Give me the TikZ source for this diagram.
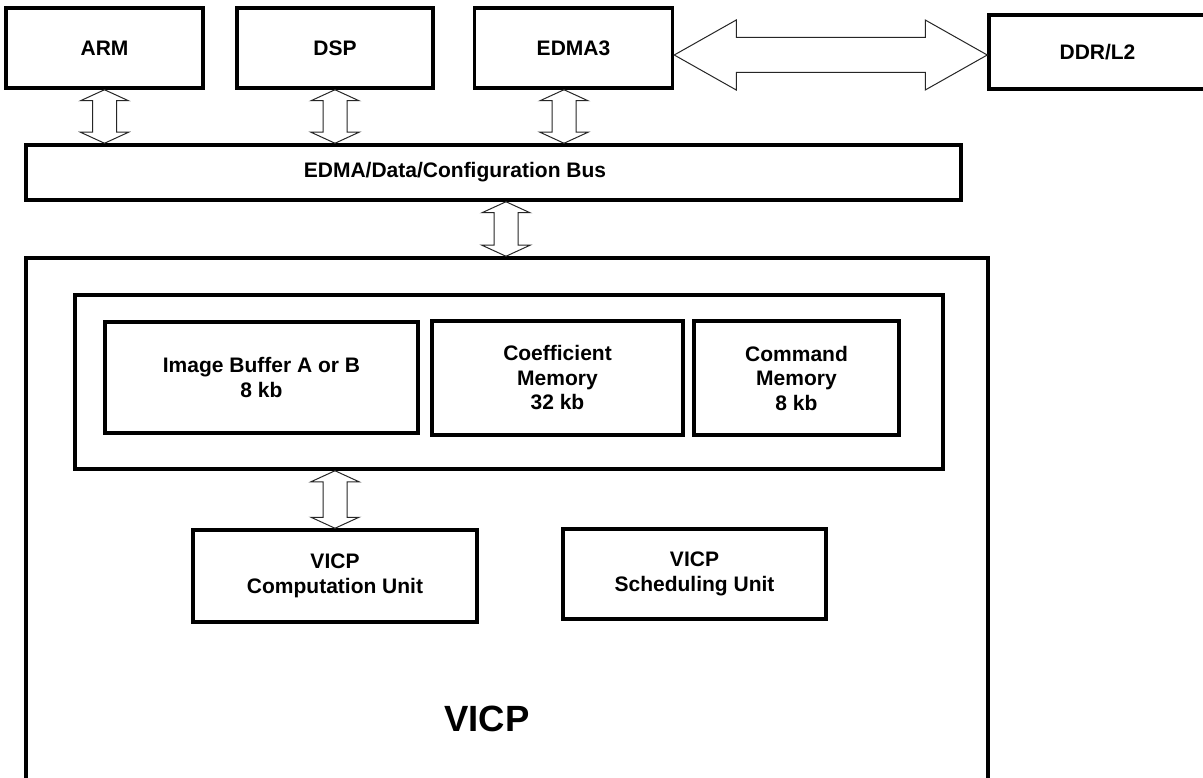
\documentclass[tikz,border=0pt]{standalone}
\usepackage{fontspec}
\setmainfont{Liberation Sans}
\usetikzlibrary{calc}
\newcommand\vdarrow[2]{%
  \draw[blockarrow] let \p1=(#1), \p2=(#2) in
    (\x1,\y1) -- (\x1+24pt,\y1-11pt) -- (\x1+12pt,\y1-11pt) -- (\x1+12pt,\y2+11pt)
    -- (\x1+24pt,\y2+11pt) -- (\x1,\y2) -- (\x1-24pt,\y2+11pt) -- (\x1-12pt,\y2+11pt)
    -- (\x1-12pt,\y1-11pt) -- (\x1-24pt,\y1-11pt) -- cycle;}
\newcommand\hdarrow[2]{%
  \draw[blockarrow] let \p1=(#1), \p2=(#2) in
    (\x1,\y1) -- (\x1+62pt,\y1+35pt) -- (\x1+62pt,\y1+17.5pt) -- (\x2-62pt,\y1+17.5pt)
    -- (\x2-62pt,\y1+35pt) -- (\x2,\y1) -- (\x2-62pt,\y1-35pt) -- (\x2-62pt,\y1-17.5pt)
    -- (\x1+62pt,\y1-17.5pt) -- (\x1+62pt,\y1-35pt) -- cycle;}
\begin{document}
\begin{tikzpicture}[x=1pt,y=-1pt,
  box/.style={draw, line width=3.5pt, inner sep=0pt, align=center,
    font=\bfseries\fontsize{21}{24.5}\selectfont},
  lbl/.style={align=center, inner sep=0pt, font=\bfseries\fontsize{21}{24.5}\selectfont},
  biglbl/.style={inner sep=0pt, font=\bfseries\fontsize{36.5}{40}\selectfont},
  blockarrow/.style={draw=black!85, line width=1pt, fill=white, line join=miter}]
\useasboundingbox (0,0) rectangle (1203,778);
\clip (0,0) rectangle (1203,778);
\fill[white] (0,0) rectangle (1203,778);

% top row
\node[box, minimum width=197, minimum height=80] (arm)  at (104.5,48) {ARM};
\node[box, minimum width=196, minimum height=80] (dsp)  at (335,48) {DSP};
\node[box, minimum width=198, minimum height=80] (edma) at (573.5,48) {EDMA3};
\node[box, minimum width=217, minimum height=74] (ddr)  at (1097.5,52) {DDR/L2};

% bus
\node[box, minimum width=935, minimum height=55] (bus) at (493.5,172.5) {};
\node[lbl] (busl) at (455,172.5) {EDMA/Data/Configuration Bus};

% VICP container
\node[box, minimum width=962, minimum height=560] (vicp) at (507,538) {};
\node[biglbl] (vicpl) at (487,719) {VICP};

% memory container
\node[box, minimum width=868, minimum height=174] (mem) at (509,382) {};
\node[box, minimum width=313, minimum height=111] (imgbuf) at (261.5,377.5) {Image Buffer A or B\\8 kb};
\node[box, minimum width=251, minimum height=114] (coef) at (557.5,378) {Coefficient\\Memory\\32 kb};
\node[box, minimum width=205, minimum height=114] (cmd) at (796.5,378) {Command\\Memory\\8 kb};

% units
\node[box, minimum width=284, minimum height=92] (comp)  at (335,576) {VICP\\Computation Unit};
\node[box, minimum width=263, minimum height=90] (sched) at (694.5,574) {VICP\\Scheduling Unit};

% connectors
\vdarrow{arm.south}{arm.south |- bus.north}
\vdarrow{dsp.south}{dsp.south |- bus.north}
\vdarrow{[xshift=-9.5pt]edma.south}{[xshift=-9.5pt]edma.south |- bus.north}
\vdarrow{[xshift=12.5pt]bus.south}{[xshift=12.5pt]bus.south |- vicp.north}
\vdarrow{comp.north |- mem.south}{comp.north}
\hdarrow{[yshift=-7pt]edma.east}{ddr.west}
\end{tikzpicture}
\end{document}
